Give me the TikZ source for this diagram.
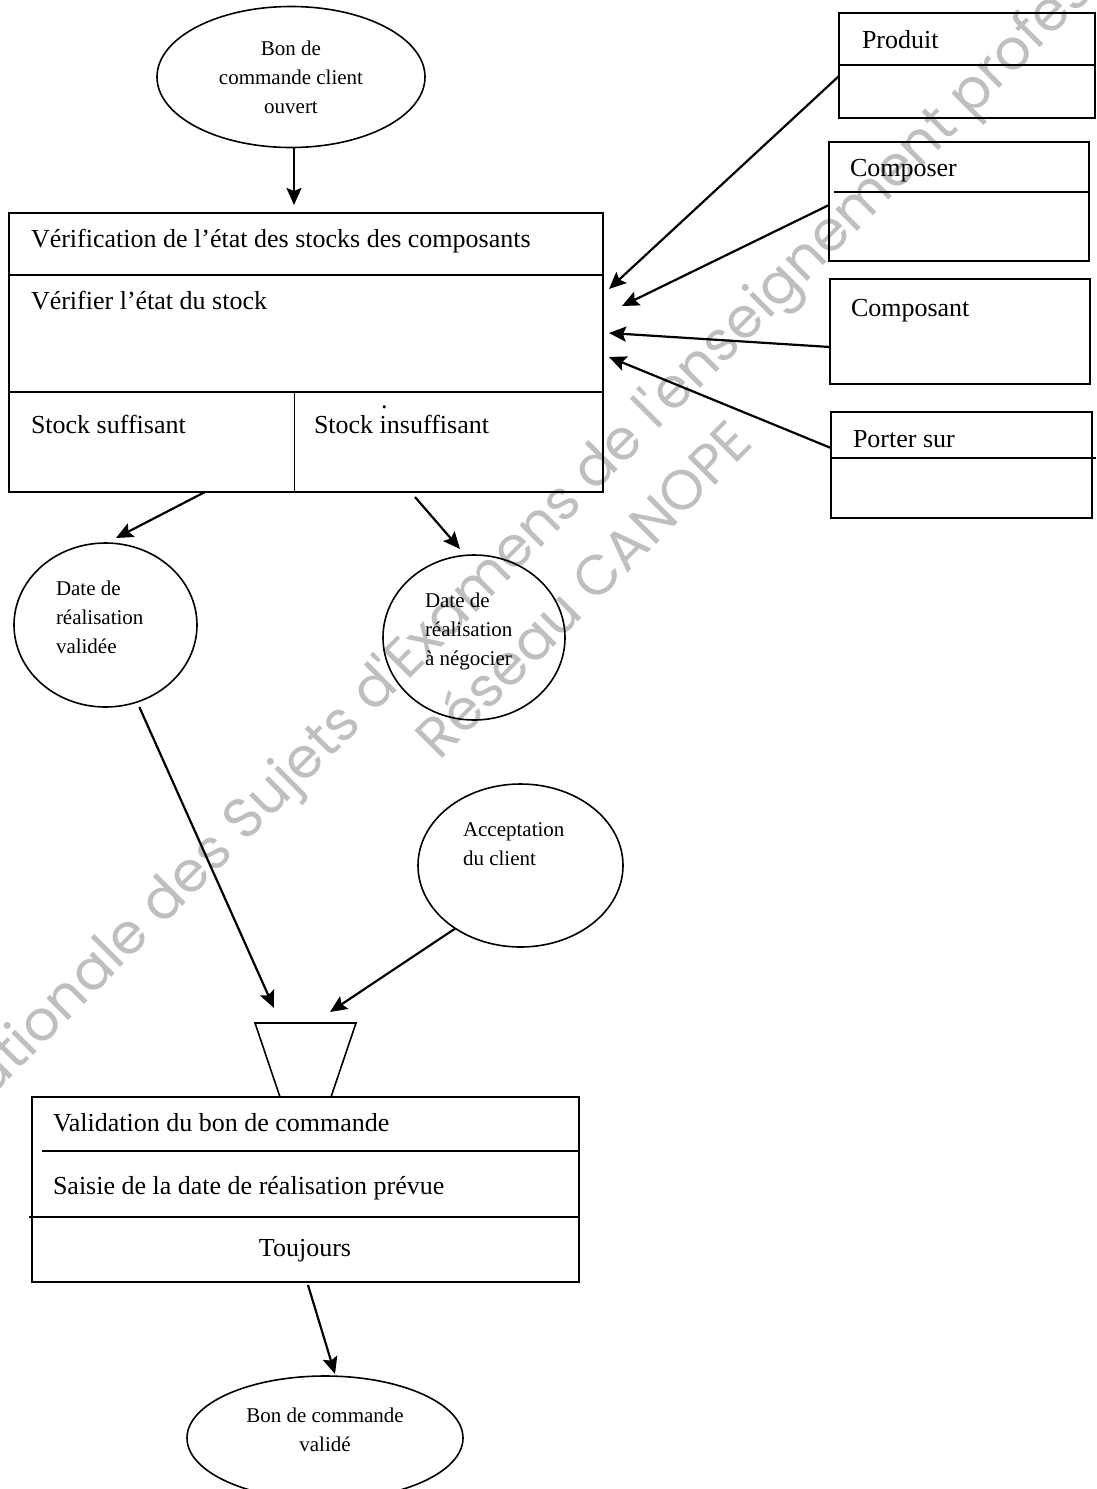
\documentclass[tikz,border=0pt]{standalone}
\usepackage{fontspec}
\setmainfont{Liberation Serif}
\newfontfamily\wmfont{Poppins}
\usepackage{tikz}
\usetikzlibrary{positioning}
\usetikzlibrary{calc}
\usetikzlibrary{shapes.geometric}
\usetikzlibrary{arrows.meta}

\begin{document}
\begin{tikzpicture}[x=1pt, y=-1pt,
    every node/.style={inner sep=0pt, outer sep=0pt},
    box/.style={draw, line width=1.6pt, rectangle, anchor=north west},
    bulle/.style={draw, line width=1.6pt, ellipse},
    grand/.style={font=\fontsize{26}{31}\selectfont, anchor=base west},
    petit/.style={font=\fontsize{21}{29}\selectfont, align=left, anchor=west},
    fleche/.style={line width=2.2pt, -{Stealth[length=17pt, width=15pt, inset=3pt]}},
    filigrane/.style={text=black!25, font=\wmfont\fontsize{56}{68}\selectfont, rotate=45}]

      \useasboundingbox (0,0) rectangle (1096,1489);

      % watermark, behind everything
      \node[filigrane] (wm1) at (535,533) {Base Nationale des Sujets d'Examens de l'enseignement professionnel};
      \node[filigrane] (wm2) at (582,588) {Réseau CANOPE};

      \def\lw{1.6pt} % line width of the dividers

      % event at the top
      \node[bulle, minimum width=268pt, minimum height=141pt] (cmdOpen) at (291,77) {};
      \node[petit, align=center, anchor=center] (tCmdOpen) at (291,77) {Bon de\\commande client\\ouvert};

      % operation: stock check
      \node[box, minimum width=594pt, minimum height=279pt] (verif) at (9,213) {};
      \draw[line width=\lw] (9,275) -- (603,275);
      \draw[line width=\lw] (9,392) -- (603,392);
      \draw[line width=\lw] (294.5,392) -- (294.5,492);
      \node[grand] (tVerif) at (31,247) {Vérification de l’état des stocks des composants};
      \node[grand] (tAction) at (31,309) {Vérifier l’état du stock};
      \node[grand] (tSuff) at (31,433) {Stock suffisant};
      \node[grand] (tInsuff) at (314,433) {Stock insuffisant};
      \node[grand] (point) at (381,408) {.};

      % entities and associations
      \node[box, minimum width=256pt, minimum height=105pt] (produit) at (839,13) {};
      \draw[line width=\lw] (839,65) -- (1096,65);
      \node[grand] (tProduit) at (862,48) {Produit};

      \node[box, minimum width=260pt, minimum height=119pt] (composer) at (829,142) {};
      \draw[line width=\lw] (834,192) -- (1089,192);
      \node[grand] (tComposer) at (850,176) {Composer};

      \node[box, minimum width=260pt, minimum height=105pt] (composant) at (830,279) {};
      \node[grand] (tComposant) at (851,316) {Composant};

      \node[box, minimum width=261pt, minimum height=106pt] (porter) at (831,412) {};
      \draw[line width=\lw] (831,458) -- (1096,458);
      \node[grand] (tPorter) at (853,447) {Porter sur};

      % results of the check
      \node[bulle, minimum width=183pt, minimum height=164pt] (dateOk) at (105.5,625) {};
      \node[petit] (tDateOk) at (56,617) {Date de\\réalisation\\validée};

      \node[bulle, minimum width=182pt, minimum height=165pt] (dateNeg) at (474,637.5) {};
      \node[petit] (tDateNeg) at (425,631) {Date de\\réalisation\\à négocier};

      \node[bulle, minimum width=205pt, minimum height=163pt] (accept) at (520.5,865.5) {};
      \node[petit] (tAccept) at (463,844) {Acceptation\\du client};

      % synchronisation
      \draw[line width=\lw] (255,1023) -- (356,1023) -- (331,1097) -- (280,1097) -- cycle;

      % operation: validation
      \node[box, minimum width=547pt, minimum height=185pt] (valid) at (32,1097) {};
      \draw[line width=\lw] (42,1151) -- (579,1151);
      \draw[line width=\lw] (29,1217) -- (579,1217);
      \node[grand] (tValid) at (53,1131) {Validation du bon de commande};
      \node[grand] (tSaisie) at (53,1194) {Saisie de la date de réalisation prévue};
      \node[grand, anchor=base] (tToujours) at (305,1256) {Toujours};

      % final event
      \node[bulle, minimum width=276pt, minimum height=124pt] (cmdOk) at (325,1438) {};
      \node[petit, align=center, anchor=center] (tCmdOk) at (325,1430) {Bon de commande\\validé};

      % arrow ends
      \coordinate (inVerif) at (294,205);
      \coordinate (inProduit) at (609,289);
      \coordinate (inComposer) at (622,306);
      \coordinate (inComposant) at (609,333);
      \coordinate (inPorter) at (609,357);
      \coordinate (inDateOk) at (116,538);
      \coordinate (inDateNeg) at (460,549);
      \coordinate (inSyncL) at (274,1008);
      \coordinate (inSyncR) at (330,1012);
      \coordinate (inCmdOk) at (335,1374);

      \draw[fleche] ([xshift=3pt]cmdOpen.south) -- (inVerif);

      \draw[fleche] ([yshift=-10.5pt]produit.west) -- (inProduit);
      \draw[fleche] ([yshift=-3.5pt]composer.west) -- (inComposer);
      \draw[fleche] ([yshift=-15.5pt]composant.west) -- (inComposant);
      \draw[fleche] ([yshift=17pt]porter.west) -- (inPorter);

      \draw[fleche] ([xshift=196pt]verif.south west) -- (inDateOk);
      \draw[fleche] ([xshift=406pt, yshift=-5pt]verif.south west) -- (inDateNeg);

      \draw[fleche] ([yshift=-6pt]dateOk.-66) -- (inSyncL);
      \draw[fleche] (accept.-136) -- (inSyncR);

      \draw[fleche] ([xshift=276pt, yshift=-3pt]valid.south west) -- (inCmdOk);
    \end{tikzpicture}
\end{document}
